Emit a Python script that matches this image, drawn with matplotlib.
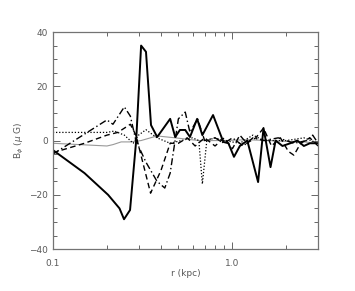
import numpy as np
import matplotlib.pyplot as plt

# radius (kpc) and B_phi (micro Gauss) for each curve
r_solid = [0.1, 0.15, 0.203, 0.235, 0.249, 0.269, 0.291, 0.31, 0.33, 0.352, 0.381,
           0.45, 0.48, 0.51, 0.546, 0.58, 0.636, 0.68, 0.78, 0.89, 0.95, 1.02, 1.1,
           1.21, 1.39, 1.49, 1.63, 1.74, 1.9, 2.1, 2.3, 2.5, 2.7, 3.0]
b_solid = [-3.5, -12, -20, -25, -29, -25.6, 0, 35, 32.7, 5.7, 1.3,
           8, 1.3, 3.9, 3.9, 1.3, 8, 2, 9.4, -0.5, -1, -6, -2,
           0, -15.3, 4.6, -9.8, 0, -2, -1, 0, -2, -1, -1]

r_gray = [0.1, 0.2, 0.216, 0.24, 0.27, 0.31, 0.38, 0.48, 0.65, 0.9, 1.2, 1.6, 2.0, 2.5, 3.0]
b_gray = [-1, -2, -1.5, -0.5, -0.5, 0, 1.7, 1, 0, 0, 0.3, 0, -0.3, -0.5, -1]

r_dot = [0.1, 0.2, 0.22, 0.25, 0.28, 0.3, 0.33, 0.38, 0.45, 0.52, 0.6, 0.65, 0.68,
         0.72, 0.8, 0.9, 1.1, 1.3, 1.5, 2.0, 2.5, 3.0]
b_dot = [3, 3, 3.5, 2, -1, 2, 4, 1, -1, 0, 1, 0, -16,
         0, 1, 0, -1, 2, 0, 0, 1, -1]

r_dash = [0.1, 0.15, 0.2, 0.23, 0.27, 0.29, 0.35, 0.4, 0.45, 0.5, 0.56, 0.62, 0.7,
          0.8, 0.9, 1.0, 1.1, 1.2, 1.35, 1.49, 1.65, 1.85, 2.05, 2.2, 2.4, 2.7, 3.0]
b_dash = [-4.5, -1, 2, 3, 6, 2, -19.4, -11, -1, -1, 1, -2, 1,
          -2, 1, -3, 2, -1, 1, 4.6, -2, 1, -4, -5.4, -1, 1, -2]

r_dashdot = [0.1, 0.2, 0.216, 0.25, 0.27, 0.29, 0.33, 0.38, 0.42, 0.45, 0.5, 0.546,
             0.58, 0.64, 0.7, 0.8, 0.9, 1.0, 1.15, 1.3, 1.5, 1.8, 2.2, 2.6, 2.8, 3.0]
b_dashdot = [-5, 7.6, 6, 12.4, 9, 0, -8, -15, -17.5, -12, 8, 10.5,
             3, 8, 0, 1, -1, 1, -2, 1, 0, 1, -1, 0, 2, -1]

plt.rcParams['font.family'] = 'DejaVu Sans'
fig = plt.figure(figsize=(3.55, 2.91), dpi=100)
ax = fig.add_axes([0.149, 0.144, 0.747, 0.746])

ax.plot(r_gray, b_gray, color='0.6', lw=0.8)
ax.plot(r_dot, b_dot, color='black', lw=0.9, ls=(0, (1, 1.5)))
ax.plot(r_dash, b_dash, color='black', lw=1.0, ls=(0, (4, 2.5)))
ax.plot(r_dashdot, b_dashdot, color='black', lw=1.0, ls=(0, (5, 2, 1, 2)))
ax.plot(r_solid, b_solid, color='black', lw=1.4)

ax.set_xscale('log')
ax.set_xlim(0.1, 3.0)
ax.set_ylim(-40, 40)
ax.set_xticks([0.1, 1.0])
ax.set_xticklabels(['0.1', '1.0'])
ax.set_xticks([0.2, 0.3, 0.4, 0.5, 0.6, 0.7, 0.8, 0.9, 2.0, 3.0], minor=True)
ax.xaxis.set_minor_formatter(plt.NullFormatter())
ax.set_yticks([-40, -20, 0, 20, 40])
ax.set_yticks(np.arange(-40, 41, 5), minor=True)

ax.tick_params(which='both', direction='in', top=True, right=True,
               labelsize=6.5, colors='0.3', labelcolor='0.35', width=0.6)
ax.tick_params(which='major', length=5)
ax.tick_params(which='minor', length=3)
ax.tick_params(axis='x', pad=7)
for s in ax.spines.values():
    s.set_color('0.45')
    s.set_linewidth(0.9)

ax.set_xlabel('r (kpc)', fontsize=6.5, color='0.35', labelpad=1)
ax.set_ylabel(r'B$_\phi$ ($\mu$ G)', fontsize=6.5, color='0.35', labelpad=2)

fig.savefig('out.png', dpi=100)
